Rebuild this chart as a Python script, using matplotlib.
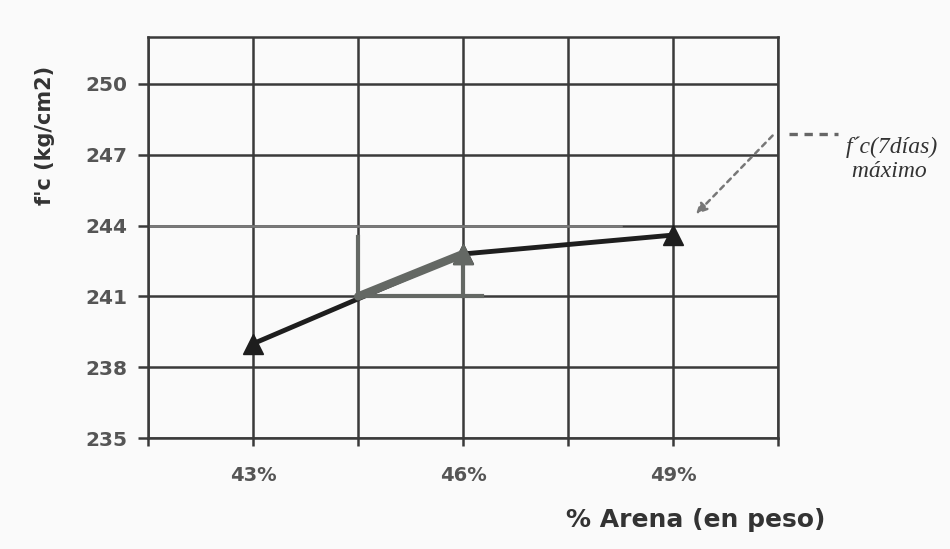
import numpy as np
import matplotlib
matplotlib.use("Agg")
import matplotlib.pyplot as plt

# % arena vs f'c at 7 days
arena = [43, 46, 49]
fc = [239.0, 242.8, 243.6]
tick_labels = ["43%", "46%", "49%"]

# helper construction around the max slope segment
tri_x = [44.5, 46.0]
tri_y = [241.0, 242.8]

fig = plt.figure(figsize=(9.5, 5.49), dpi=100, facecolor="#fafafa")
ax = fig.add_axes([0.156, 0.202, 0.663, 0.731])
ax.set_facecolor("#fafafa")

ax.set_xlim(41.5, 50.5)
ax.set_ylim(235, 252)

grid_c = "#3a3a3a"
ax.set_xticks(np.arange(41.5, 50.6, 1.5), minor=True)
ax.set_xticks(arena)
ax.set_xticklabels(tick_labels)
ax.set_yticks(np.arange(235, 251, 3))
ax.grid(True, which="both", color=grid_c, linewidth=1.8)
ax.tick_params(axis="x", which="both", length=6, width=1.8, color=grid_c,
               pad=14, labelsize=14, labelcolor="#555555")
ax.tick_params(axis="y", length=7, width=1.8, color=grid_c,
               pad=8, labelsize=14.5, labelcolor="#555555")
for lab in ax.get_xticklabels() + ax.get_yticklabels():
    lab.set_fontweight("bold")
for s in ax.spines.values():
    s.set_color(grid_c)
    s.set_linewidth(1.8)

# lighter 244 line
ax.axhline(244, xmin=0, xmax=0.75, color="#7a7a7a", linewidth=1.8, zorder=2)

# data line
ax.plot(arena, fc, color="#1e1e1e", linewidth=3.5, marker="^",
        markersize=15, zorder=4)

# gray slope triangle
g = "#646864"
ax.plot(tri_x, tri_y, color=g, linewidth=6, solid_capstyle="round", zorder=5)
ax.plot([44.5, 44.5], [241, 243.5], color=g, linewidth=3, zorder=5)
ax.plot([46, 46], [241, 242.6], color=g, linewidth=3, zorder=5)
ax.plot([44.5, 46.27], [241, 241], color=g, linewidth=3, zorder=5)
ax.plot([46], [242.8], marker="^", color=g, markersize=15, zorder=6)

fig.text(0.047, 0.754, "f'c (kg/cm2)", fontsize=15, fontweight="bold",
         color="#333333", rotation=90, ha="center", va="center")
fig.text(0.732, 0.053, "% Arena (en peso)", fontsize=18, fontweight="bold",
         color="#333333", ha="center", va="center")

# annotation for the maximum
ax.annotate("", xy=(49.3, 244.4), xytext=(50.45, 247.9),
            arrowprops=dict(arrowstyle="-|>", linestyle=(0, (2, 2)),
                            color="#777777", linewidth=1.8,
                            mutation_scale=16),
            annotation_clip=False)
ax.plot([50.65, 51.35], [247.9, 247.9], color="#666666", linewidth=2.4,
        linestyle=(0, (2.5, 2)), clip_on=False)
fig.text(0.89, 0.71, "f´c(7días)\n máximo", fontsize=17, style="italic",
         family="Liberation Serif", color="#333333", ha="left", va="center",
         linespacing=1.2)

fig.savefig("out.png", dpi=100, facecolor=fig.get_facecolor())
